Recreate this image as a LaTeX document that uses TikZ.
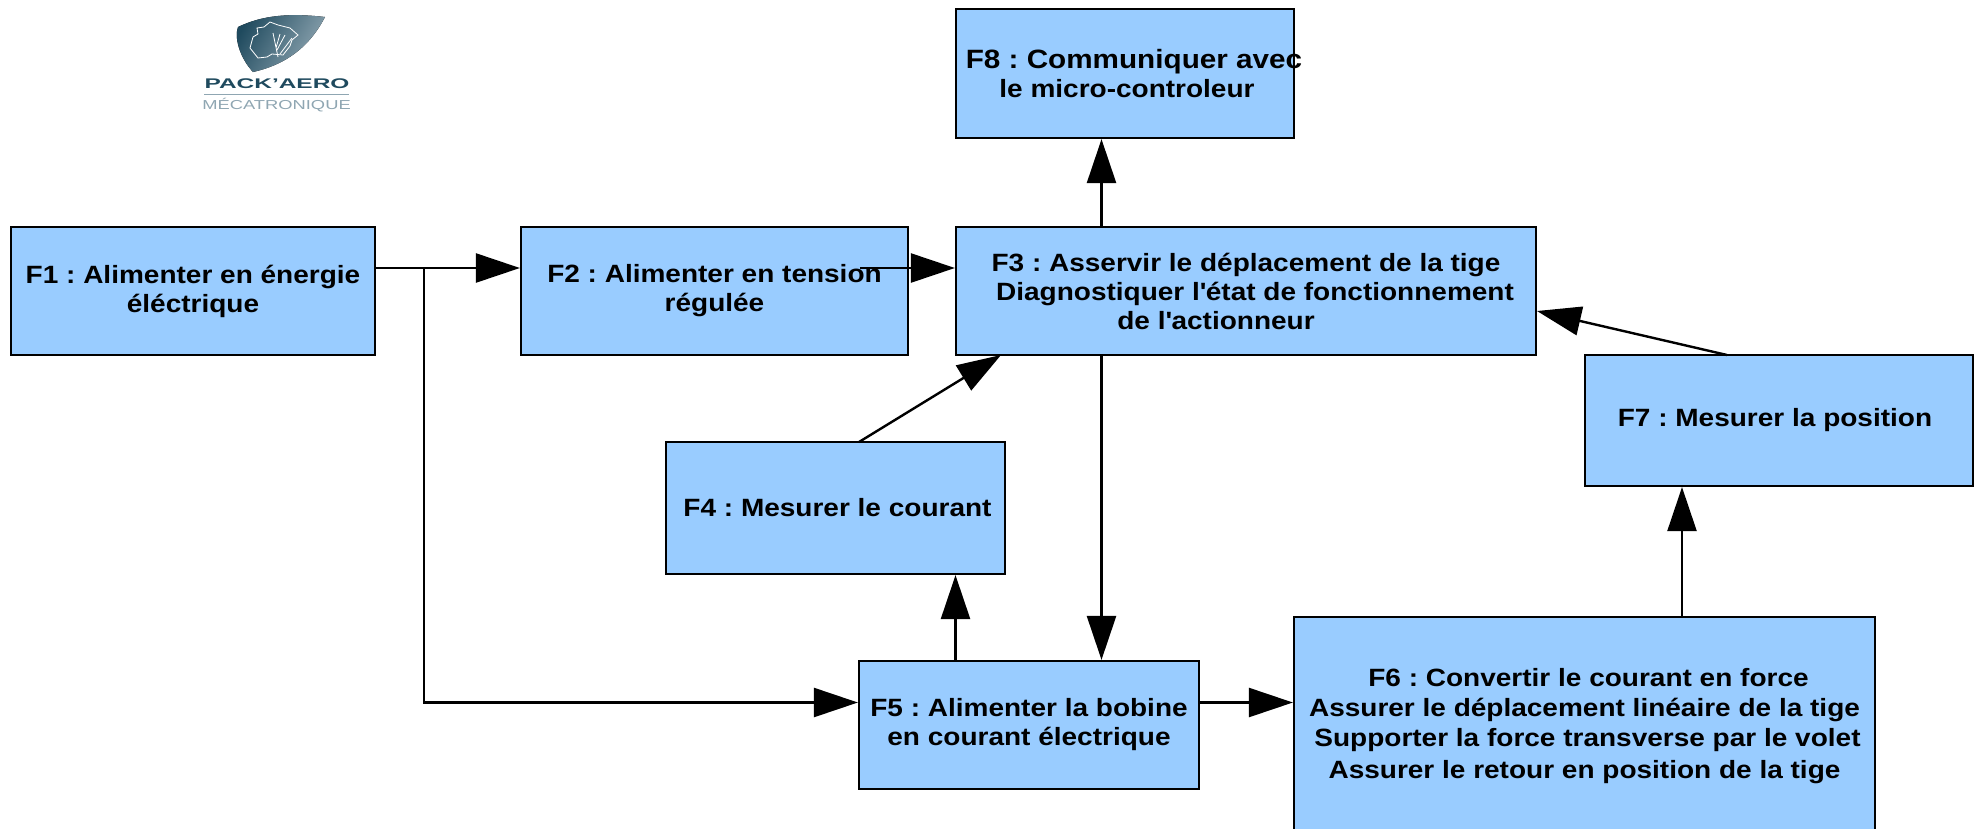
\documentclass[tikz,border=0pt]{standalone}
\usepackage{fontspec}
\setmainfont[FakeStretch=1.12]{Liberation Sans}
\usetikzlibrary{calc}
\usetikzlibrary{arrows.meta}
\definecolor{boxblue}{HTML}{99CCFF}
\definecolor{logodark}{HTML}{1F4A5E}
\definecolor{logolight}{HTML}{8FA6B2}
\tikzset{
	funcbox/.style={draw=black, line width=2.2pt, fill=boxblue, align=center, inner sep=0pt, font=\fontsize{25}{29}\selectfont\bfseries\frenchspacing},
	flow/.style={draw=black, line width=2.4pt, -{Triangle[length=44pt,width=29pt]}}
}

\begin{document}
\begin{tikzpicture}[x=1pt, y=-1pt]
		\clip (0,0) rectangle (1974,828);
		% logo
		\fill[left color=logodark, right color=logolight, shading angle=60] (325,17) .. controls (290,13) and (263,15) .. (238,27) .. controls (234,38) and (240,58) .. (253,72) .. controls (293,63) and (313,40) .. (325,17) -- cycle;
		\draw[white, line width=.8pt] (270,22) -- (278,25) -- (290,28) -- (298,35) -- (292,40) -- (290,46) -- (283,55) -- (272,54) -- (267,57) -- (258,58) -- (250,48) -- (253,37) -- (258,34) -- (257,28) -- (264,27) -- cycle;
		\draw[white, line width=.8pt] (273,33) -- (278,57) (285,35) -- (277,50) (292,38) -- (280,54) (280,34) -- (276,48);
		\node[text=logodark, font=\fontsize{14}{15}\selectfont\bfseries, xscale=1.56, inner sep=0pt] (packaero) at (277,84) {PACK'AERO};
		\draw[logolight, line width=1pt] (204,94) -- (349,94);
		\node[text=logolight, font=\fontsize{13}{14}\selectfont, xscale=1.26, inner sep=0pt] (mecatronique) at (276.5,105) {MÉCATRONIQUE};
		% boxes
		\node[funcbox, minimum width=338pt, minimum height=129pt] (f8) at (1125,73.5) {\fontsize{26.5}{29}\selectfont\makebox[320pt][c]{\hspace*{18pt}F8 : Communiquer avec}\\\hspace*{4pt}le micro-controleur};
		\node[funcbox, minimum width=364pt, minimum height=128pt] (f1) at (193,291) {F1 : Alimenter en énergie\\éléctrique};
		\node[funcbox, minimum width=387pt, minimum height=128pt] (f2) at (714.5,291) {F2 : Alimenter en tension\\régulée};
		\node[funcbox, minimum width=580pt, minimum height=128pt] (f3) at (1246,291) {F3 : Asservir le déplacement de la tige\\\hspace*{18pt}Diagnostiquer l\textquotesingle état de fonctionnement\\\hspace*{-60pt}de l\textquotesingle actionneur};
		\node[funcbox, minimum width=339pt, minimum height=132pt] (f4) at (835.5,508) {\hspace*{4pt}F4 : Mesurer le courant};
		\node[funcbox, minimum width=340pt, minimum height=128pt] (f5) at (1029,725) {F5 : Alimenter la bobine\\en courant électrique};
		\node[funcbox, minimum width=581pt, minimum height=219pt] (f6) at (1584.5,726.5) {\hspace*{8pt}F6 : Convertir le courant en force\\[1pt]Assurer le déplacement linéaire de la tige\\[1pt]\hspace*{6pt}Supporter la force transverse par le volet\\[3pt]Assurer le retour en position de la tige};
		\node[funcbox, minimum width=388pt, minimum height=131pt] (f7) at (1779,420.5) {\hspace*{-8pt}F7 : Mesurer la position};
		% rails
		\coordinate (railtop) at (0,268);
		\coordinate (railbot) at (0,702.5);
		\coordinate (branch) at (424,0);
		\coordinate (f2out) at (860,268);
		\coordinate (spine) at (1101.5,0);
		\coordinate (f5up) at (955.5,0);
		\coordinate (f4out) at (859,442);
		\coordinate (f3in) at (1001,355);
		\coordinate (f7out) at (1727,355);
		\coordinate (f3right) at (1537,311);
		\coordinate (f6up) at (1682,0);
		% arrows
		\draw[flow] (f1.east |- railtop) -- (f2.west |- railtop);
		\draw[flow] (branch |- railtop) -- (branch |- railbot) -- (f5.west |- railbot);
		\draw[flow] (f2out) -- (f3.west |- railtop);
		\draw[flow] (spine |- f3.north) -- (spine |- f8.south);
		\draw[flow] (spine |- f3.south) -- (spine |- f5.north);
		\draw[flow] (f5up |- f5.north) -- (f5up |- f4.south);
		\draw[flow] (f4out) -- (f3in);
		\draw[flow] (f7out) -- (f3right);
		\draw[flow] (f5.east |- railbot) -- (f6.west |- railbot);
		\draw[flow] (f6up |- f6.north) -- (f6up |- f7.south);
	\end{tikzpicture}
\end{document}
